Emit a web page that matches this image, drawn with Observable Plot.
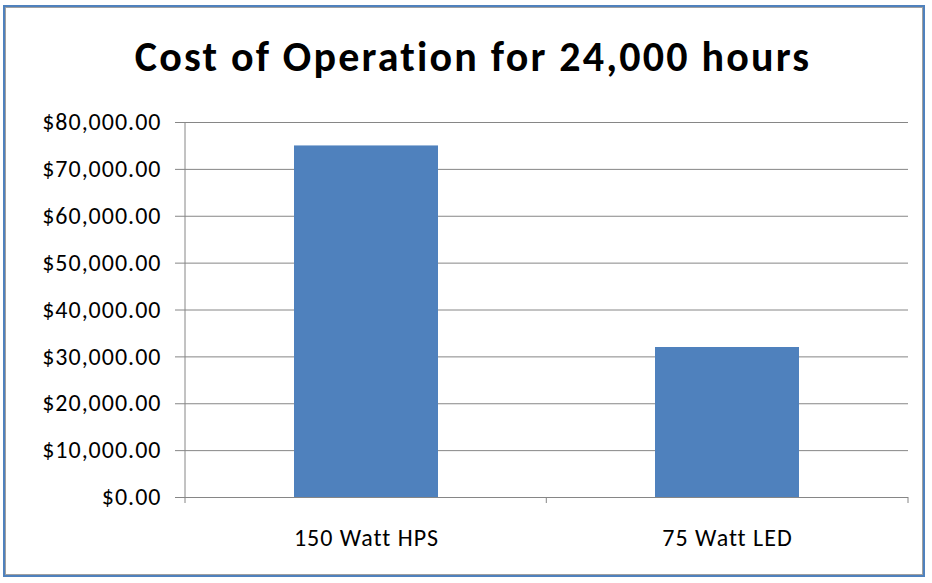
<!DOCTYPE html>
<html><head><meta charset="utf-8">
<script src="https://cdn.jsdelivr.net/npm/d3@7"></script>
<script src="https://cdn.jsdelivr.net/npm/@observablehq/plot@0.6"></script>
<style>
html,body{margin:0;padding:0;background:#fff;}
body{width:932px;height:583px;position:relative;overflow:hidden;font-family:Carlito,Lato,"Open Sans",sans-serif;}
#frame{position:absolute;left:3px;top:5px;width:922px;height:572px;border:2px solid #4f81bd;box-shadow:inset 0 0 0 1px #a0a0a0;box-sizing:border-box;}
#title{position:absolute;left:7px;top:33px;width:932px;text-align:center;font-size:42px;letter-spacing:2.2px;font-weight:bold;color:#000;line-height:48px;}
#chart{position:absolute;left:0;top:100px;}
#chart svg text{font-size:24px;letter-spacing:1px;fill:#000;}
</style></head>
<body>
<div id="frame"></div>
<div id="title">Cost of Operation for 24,000 hours</div>
<div id="chart"></div>
<script>
const categories = ["150 Watt HPS", "75 Watt LED"];
const costs = [75000, 32000];
const yTicks = [0, 10000, 20000, 30000, 40000, 50000, 60000, 70000, 80000];

const data = categories.map((c, i) => ({category: c, cost: costs[i]}));
const fmt = d3.format("$,.2f");
const gray = "#868686";

const plot = Plot.plot({
  width: 932,
  height: 460,
  marginTop: 22,
  marginBottom: 63,
  marginLeft: 185,
  marginRight: 24,
  style: {fontFamily: "Carlito, Lato, 'Open Sans', sans-serif", fontSize: "24px", color: "#000", background: "transparent"},
  x: {domain: categories, paddingInner: 0.6, paddingOuter: 0.3, label: null},
  y: {domain: [0, 80000], label: null},
  marks: [
    Plot.gridY(yTicks, {stroke: gray, strokeOpacity: 1, strokeWidth: 1}),
    Plot.barY(data, {x: "category", y: "cost", fill: "#4f81bd"}),
    Plot.ruleY([0], {stroke: gray, strokeWidth: 1}),
    Plot.axisY(yTicks, {tickFormat: fmt, tickSize: 10, tickPadding: 14, stroke: gray, fill: "#000", label: null}),
    Plot.axisX({tickSize: 0, tickPadding: 31, fill: "#000", label: null})
  ]
});

// left axis line and category boundary ticks, derived from the scales
const xs = plot.scale("x");
const ys = plot.scale("y");
const svg = d3.select(plot);
const y0 = ys.apply(0), yTop = ys.apply(80000);
const [r0, r1] = xs.range;
svg.append("line").attr("x1", r0).attr("x2", r0).attr("y1", yTop).attr("y2", y0).attr("stroke", gray);
const edges = [r0];
categories.forEach(c => edges.push(xs.apply(c) + xs.bandwidth + xs.step * xs.paddingInner / 2));
edges[edges.length - 1] = r1;
edges.forEach(e => svg.append("line").attr("x1", e).attr("x2", e).attr("y1", y0).attr("y2", y0 + 6).attr("stroke", gray));

document.getElementById("chart").appendChild(plot);
</script>
</body></html>
